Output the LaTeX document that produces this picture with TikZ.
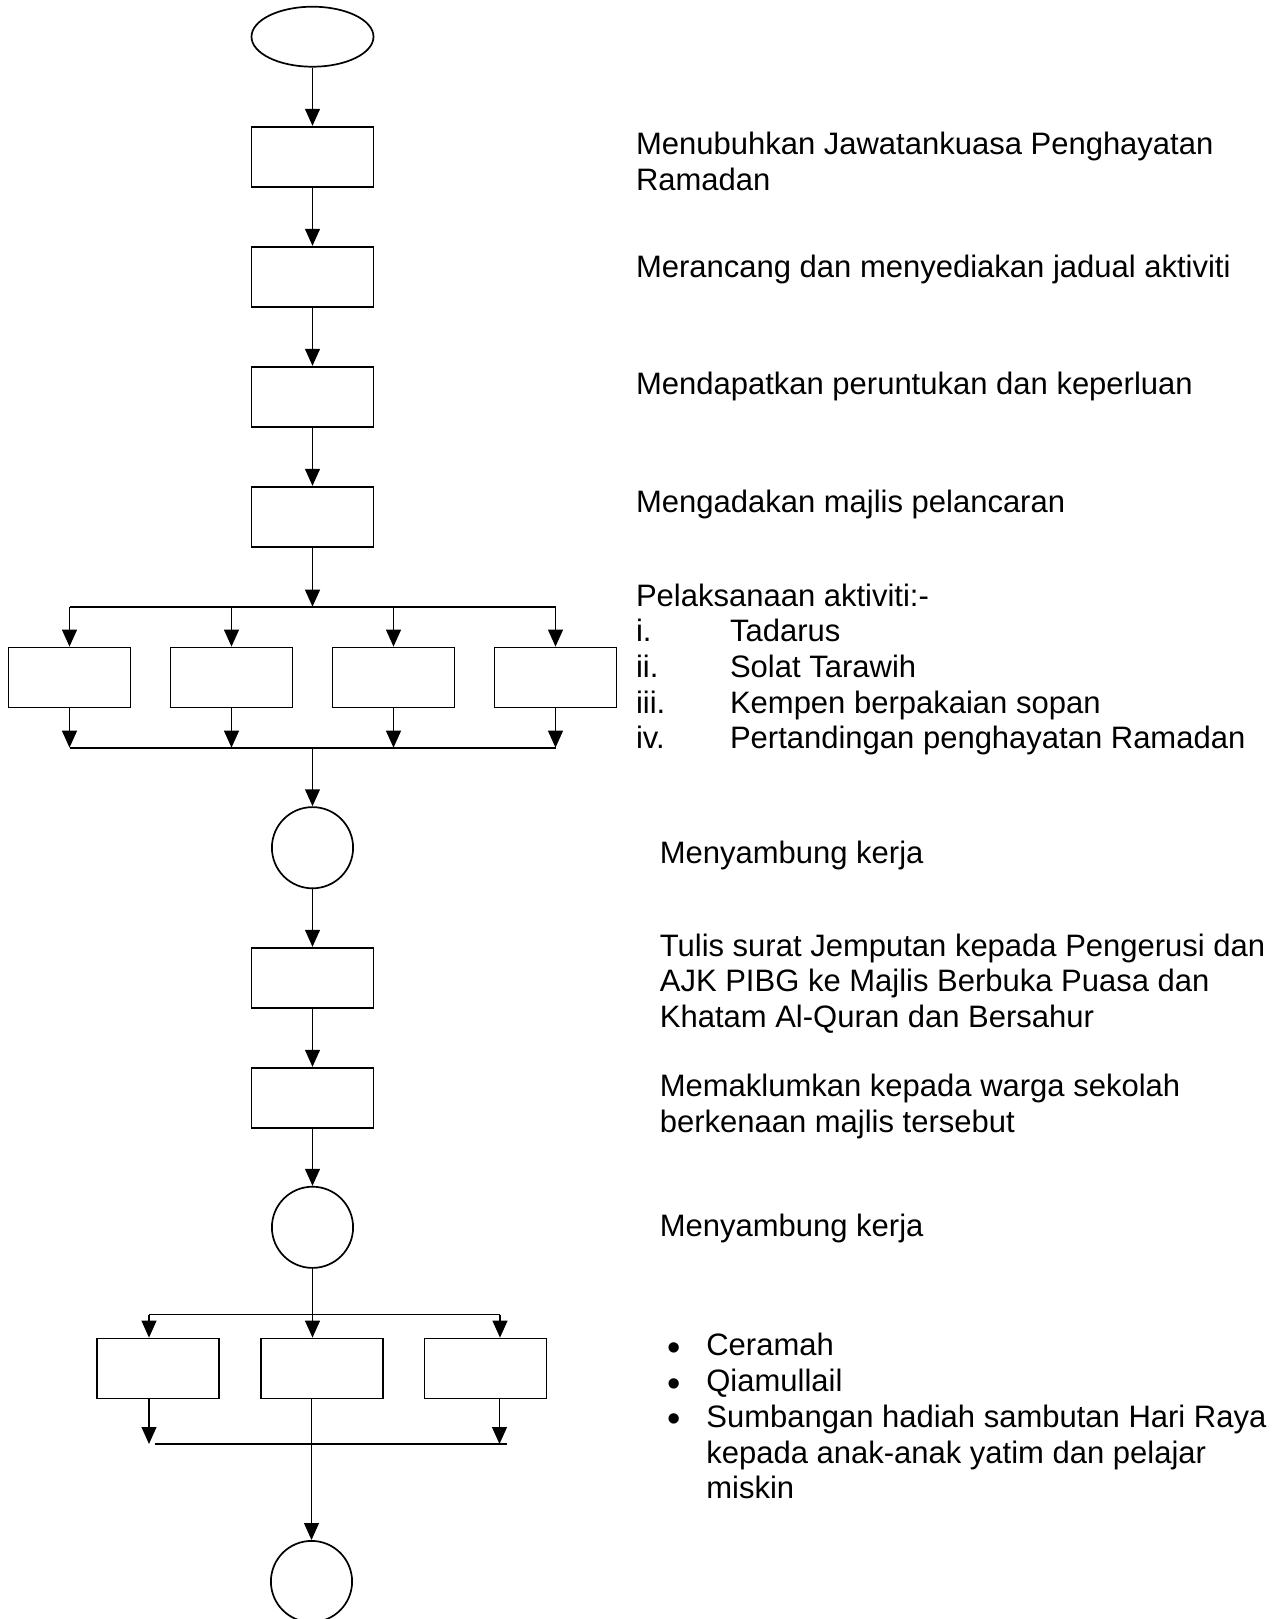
\documentclass[tikz,border=0pt]{standalone}
\usepackage{fontspec}
\setmainfont{Liberation Sans}
\usetikzlibrary{arrows.meta,shapes.geometric}
\newcommand\txtfont{\fontsize{15.5pt}{17.85pt}\selectfont}
\newcommand\bigbul{\smash{\raisebox{-2.2pt}{\fontsize{19pt}{17.85pt}\selectfont\textbullet}}}
\begin{document}
\begin{tikzpicture}[x=0.5pt,y=-0.5pt,
  line width=0.85pt,
  arr/.style={-{Triangle[length=8.5pt,width=7.4pt]}},
  boxnode/.style={draw,rectangle,minimum width=61pt,minimum height=30pt,inner sep=0pt},
  termnode/.style={draw,ellipse,minimum width=61pt,minimum height=30pt,inner sep=0pt},
  connnode/.style={draw,circle,minimum size=40.6pt,inner sep=0pt},
  lbl/.style={anchor=base west,inner sep=0pt,font=\txtfont}]
\clip (0,0) rectangle (1287,1619);
\fill[white] (0,0) rectangle (1287,1619);

% main column
\node[termnode] (start) at (312.5,36.7) {};
\node[boxnode] (b1) at (312.5,156.7) {};
\node[boxnode] (b2) at (312.5,276.7) {};
\node[boxnode] (b3) at (312.5,396.7) {};
\node[boxnode] (b4) at (312.5,516.7) {};
\coordinate (j1) at (312.5,606.7);
\node[boxnode] (r1a) at (69.5,677.5) {};
\node[boxnode] (r1b) at (231.5,677.5) {};
\node[boxnode] (r1c) at (393.5,677.5) {};
\node[boxnode] (r1d) at (555.5,677.5) {};
\coordinate (k1) at (312.5,747.7);
\node[connnode] (c1) at (312.5,847.7) {};
\node[boxnode] (b5) at (312.5,977.7) {};
\node[boxnode] (b6) at (312.5,1097.7) {};
\node[connnode] (c2) at (312.5,1227.3) {};
\coordinate (d2L) at (149,1314.5);
\coordinate (d2R) at (500,1314.5);
\node[boxnode] (r2a) at (158,1368.5) {};
\node[boxnode] (r2b) at (322,1368.5) {};
\node[boxnode] (r2c) at (485.5,1368.5) {};
\coordinate (e2L) at (149,1444);
\coordinate (e2R) at (499.5,1444);
\coordinate (e2s) at (155,1444);
\coordinate (e2e) at (507,1444);
\node[connnode] (c3) at (311.5,1581.5) {};

% connectors
\draw[arr] (start) -- (b1);
\draw[arr] (b1) -- (b2);
\draw[arr] (b2) -- (b3);
\draw[arr] (b3) -- (b4);
\draw[arr] (b4) -- (j1);
\draw (r1a |- j1) -- (r1d |- j1);
\foreach \n in {r1a,r1b,r1c,r1d}{
  \draw[arr] (\n |- j1) -- (\n.north);
  \draw[arr] (\n.south) -- (\n |- k1);
}
\draw (r1a |- k1) -- (r1d |- k1);
\draw[arr] (k1) -- (c1);
\draw[arr] (c1) -- (b5);
\draw[arr] (b5) -- (b6);
\draw[arr] (b6) -- (c2);
\draw[arr] (c2.south) -- (c2.south |- r2b.north);
\draw (d2L) -- (d2R);
\draw[arr] (d2L) -- (d2L |- r2a.north);
\draw[arr] (d2R) -- (d2R |- r2c.north);
\draw[arr] (e2L |- r2a.south) -- (e2L);
\draw[arr] (e2R |- r2c.south) -- (e2R);
\draw (e2s) -- (e2e);
\draw[arr] (c3.north |- r2b.south) -- (c3.north);

% texts
\node[lbl] (t1) at (635.2,154.4) {\begin{tabular}[t]{@{}l@{}}Menubuhkan Jawatankuasa Penghayatan\\Ramadan\end{tabular}};
\node[lbl] (t2) at (635.2,277.5) {Merancang dan menyediakan jadual aktiviti};
\node[lbl] (t3) at (635.2,394.2) {Mendapatkan peruntukan dan keperluan};
\node[lbl] (t4) at (635.2,512) {Mengadakan majlis pelancaran};
\node[lbl] (t5) at (635.2,606) {\begin{tabular}[t]{@{}p{47pt}@{}l@{}}\multicolumn{2}{@{}l@{}}{Pelaksanaan aktiviti:-}\\
i. & Tadarus\\
ii. & Solat Tarawih\\
iii. & Kempen berpakaian sopan\\
iv. & Pertandingan penghayatan Ramadan\end{tabular}};
\node[lbl] (t6) at (659,863.2) {Menyambung kerja};
\node[lbl] (t7) at (659,956.1) {\begin{tabular}[t]{@{}l@{}}Tulis surat Jemputan kepada Pengerusi dan\\AJK PIBG ke Majlis Berbuka Puasa dan\\Khatam Al-Quran dan Bersahur\end{tabular}};
\node[lbl] (t8) at (659,1096.6) {\begin{tabular}[t]{@{}l@{}}Memaklumkan kepada warga sekolah\\berkenaan majlis tersebut\end{tabular}};
\node[lbl] (t9) at (659,1236) {Menyambung kerja};
\node[lbl] (t10) at (667,1355.9) {\begin{tabular}[t]{@{}p{19.25pt}@{}l@{}}
\bigbul & Ceramah\\
\bigbul & Qiamullail\\
\bigbul & Sumbangan hadiah sambutan Hari Raya\\
 & kepada anak-anak yatim dan pelajar\\
 & miskin\end{tabular}};
\end{tikzpicture}
\end{document}
